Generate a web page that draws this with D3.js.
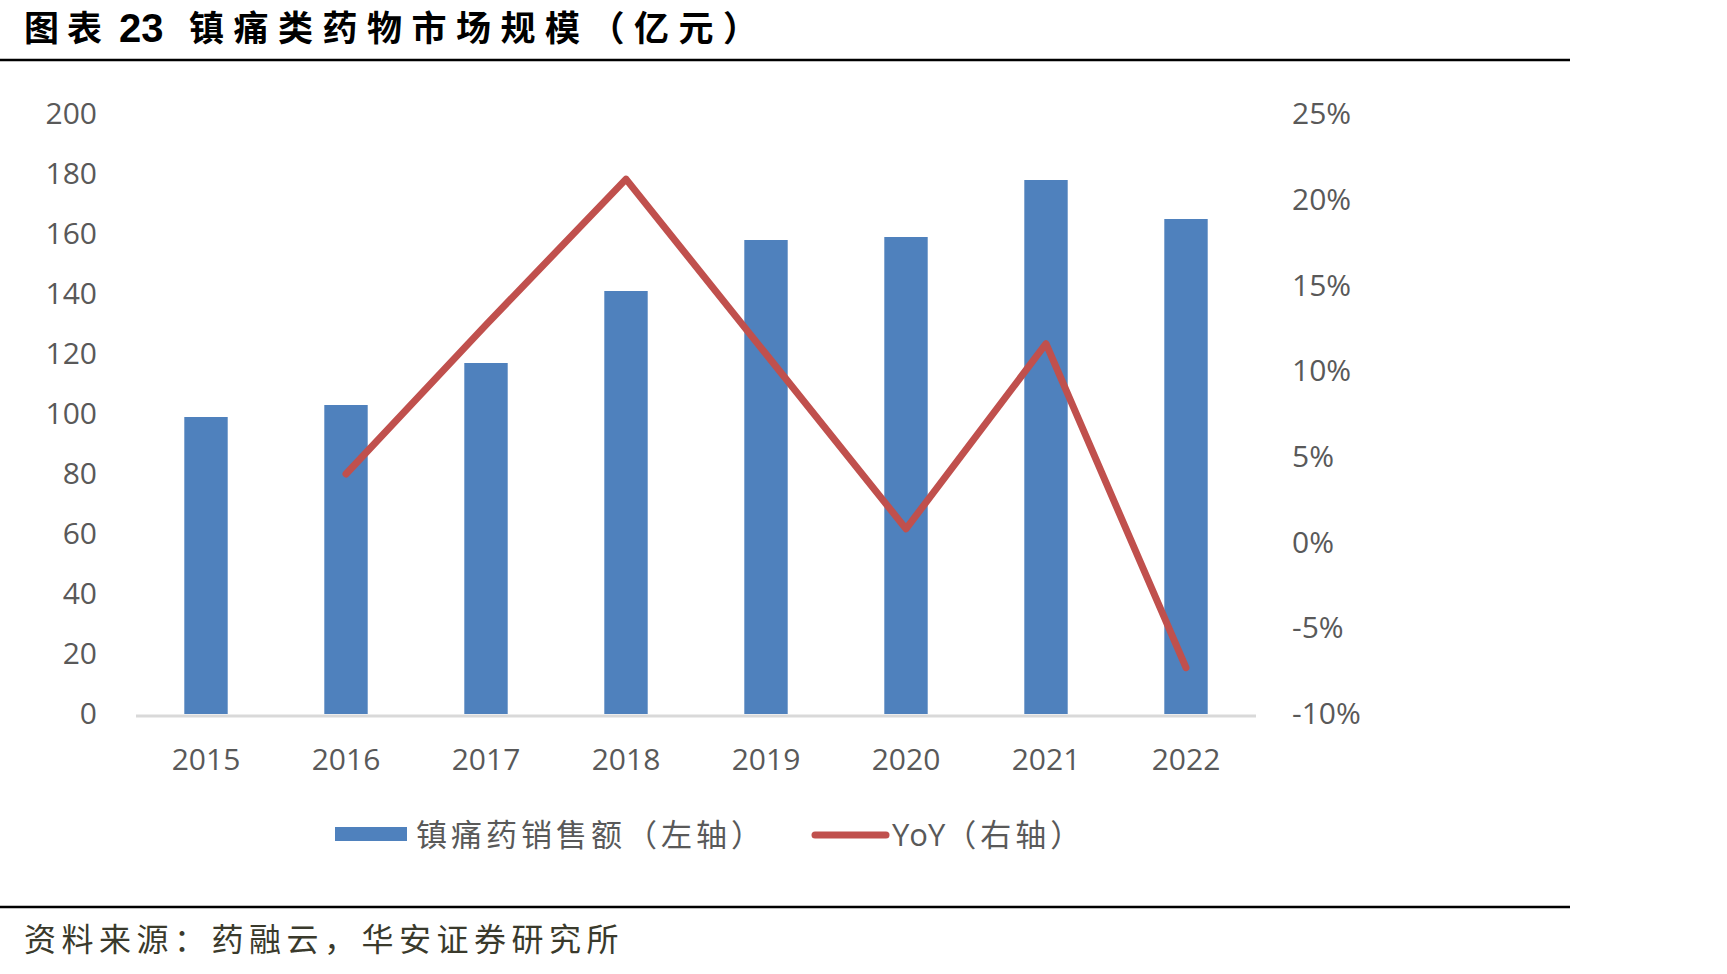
<!DOCTYPE html>
<html lang="zh">
<head>
<meta charset="utf-8">
<title>镇痛类药物市场规模</title>
<style>
    body { margin: 0; background: #fff; }
    svg text { font-family: "Open Sans", "Noto Sans CJK SC", sans-serif; }
    .cjk { font-family: "Noto Sans CJK SC", sans-serif; }
</style>
</head>
<body>
<svg id="chart" width="1727" height="974"></svg>
<script src="https://d3js.org/d3.v7.min.js"></script>
<script>
// data
const years = ["2015", "2016", "2017", "2018", "2019", "2020", "2021", "2022"]
const sales = [99, 103, 117, 141, 158, 159, 178, 165]          // 亿元, left axis
const yoy = [null, 0.040, 0.127, 0.212, 0.110, 0.008, 0.116, -0.073] // right axis
const leftTicks = [0, 20, 40, 60, 80, 100, 120, 140, 160, 180, 200]
const rightTicks = [-0.10, -0.05, 0, 0.05, 0.10, 0.15, 0.20, 0.25]

const svg = d3.select("#chart")
svg.append("rect").attr("width", 1727).attr("height", 974).attr("fill", "#fff")

// title + rules
svg.append("text").attr("x", 24).attr("y", 41)
    .attr("class", "cjk").attr("font-size", 35).attr("font-weight", "bold")
    .attr("letter-spacing", 8).text("图表")
svg.append("text").attr("x", 119).attr("y", 42)
    .attr("font-size", 40).attr("font-weight", "bold")
    .style("font-family", "Liberation Sans, sans-serif").text("23")
svg.append("text").attr("x", 189).attr("y", 41)
    .attr("class", "cjk").attr("font-size", 35).attr("font-weight", "bold")
    .attr("letter-spacing", 9.5).text("镇痛类药物市场规模（亿元）")
svg.append("line").attr("x1", 0).attr("x2", 1570).attr("y1", 60).attr("y2", 60)
    .attr("stroke", "#000").attr("stroke-width", 2.5)

svg.append("line").attr("x1", 0).attr("x2", 1570).attr("y1", 907).attr("y2", 907)
    .attr("stroke", "#000").attr("stroke-width", 2.5)
svg.append("text").attr("x", 24).attr("y", 951)
    .attr("class", "cjk").attr("font-size", 32).attr("letter-spacing", 5.5)
    .attr("fill", "#3a3a2c").text("资料来源：药融云，华安证券研究所")

// scales
const x = d3.scaleBand().domain(years).range([136, 1256]).paddingInner(0.69).paddingOuter(0.345)
const yL = d3.scaleLinear().domain([0, 200]).range([714, 114])
const yR = d3.scaleLinear().domain([-0.10, 0.25]).range([714, 114])

// axes
const axisL = svg.append("g").attr("transform", "translate(97,0)")
    .call(d3.axisLeft(yL).tickValues(leftTicks).tickSize(0).tickPadding(0))
const axisR = svg.append("g").attr("transform", "translate(1292,0)")
    .call(d3.axisRight(yR).tickValues(rightTicks).tickSize(0).tickPadding(0)
        .tickFormat(d => Math.round(d * 100) + "%"))
const axisB = svg.append("g").attr("transform", "translate(0,716)")
    .call(d3.axisBottom(x).tickSize(0).tickPadding(44))
for (const g of [axisL, axisR, axisB]) {
    g.select(".domain").remove()
    g.selectAll("text").attr("font-size", 30).attr("fill", "#595959")
        .style("font-family", "Open Sans, sans-serif")
}
axisB.selectAll("text").attr("dy", "0.32em")

// bars
svg.append("g").selectAll("rect").data(years).join("rect")
    .attr("x", d => x(d)).attr("width", x.bandwidth())
    .attr("y", (d, i) => yL(sales[i])).attr("height", (d, i) => yL(0) - yL(sales[i]))
    .attr("fill", "#4f81bd")

// baseline
svg.append("line").attr("x1", 136).attr("x2", 1256).attr("y1", 716).attr("y2", 716)
    .attr("stroke", "#d9d9d9").attr("stroke-width", 3)

// yoy line
const line = d3.line()
    .defined(d => d[1] !== null)
    .x(d => x(d[0]) + x.bandwidth() / 2)
    .y(d => yR(d[1]))
svg.append("path").datum(years.map((y, i) => [y, yoy[i]]))
    .attr("d", line).attr("fill", "none")
    .attr("stroke", "#c0504d").attr("stroke-width", 7)
    .attr("stroke-linejoin", "round").attr("stroke-linecap", "round")

// legend
const lg = svg.append("g")
lg.append("rect").attr("x", 335).attr("y", 827).attr("width", 72).attr("height", 14).attr("fill", "#4f81bd")
lg.append("text").attr("x", 416).attr("y", 846).attr("class", "cjk")
    .attr("font-size", 31).attr("letter-spacing", 4).attr("fill", "#595959")
    .text("镇痛药销售额（左轴）")
lg.append("line").attr("x1", 815).attr("x2", 886).attr("y1", 835).attr("y2", 835)
    .attr("stroke", "#c0504d").attr("stroke-width", 7).attr("stroke-linecap", "round")
const t2 = lg.append("text").attr("x", 892).attr("y", 846).attr("font-size", 31).attr("fill", "#595959")
t2.append("tspan").style("font-family", "Open Sans, sans-serif").text("YoY")
t2.append("tspan").attr("class", "cjk").attr("letter-spacing", 4).text("（右轴）")
</script>
</body>
</html>
